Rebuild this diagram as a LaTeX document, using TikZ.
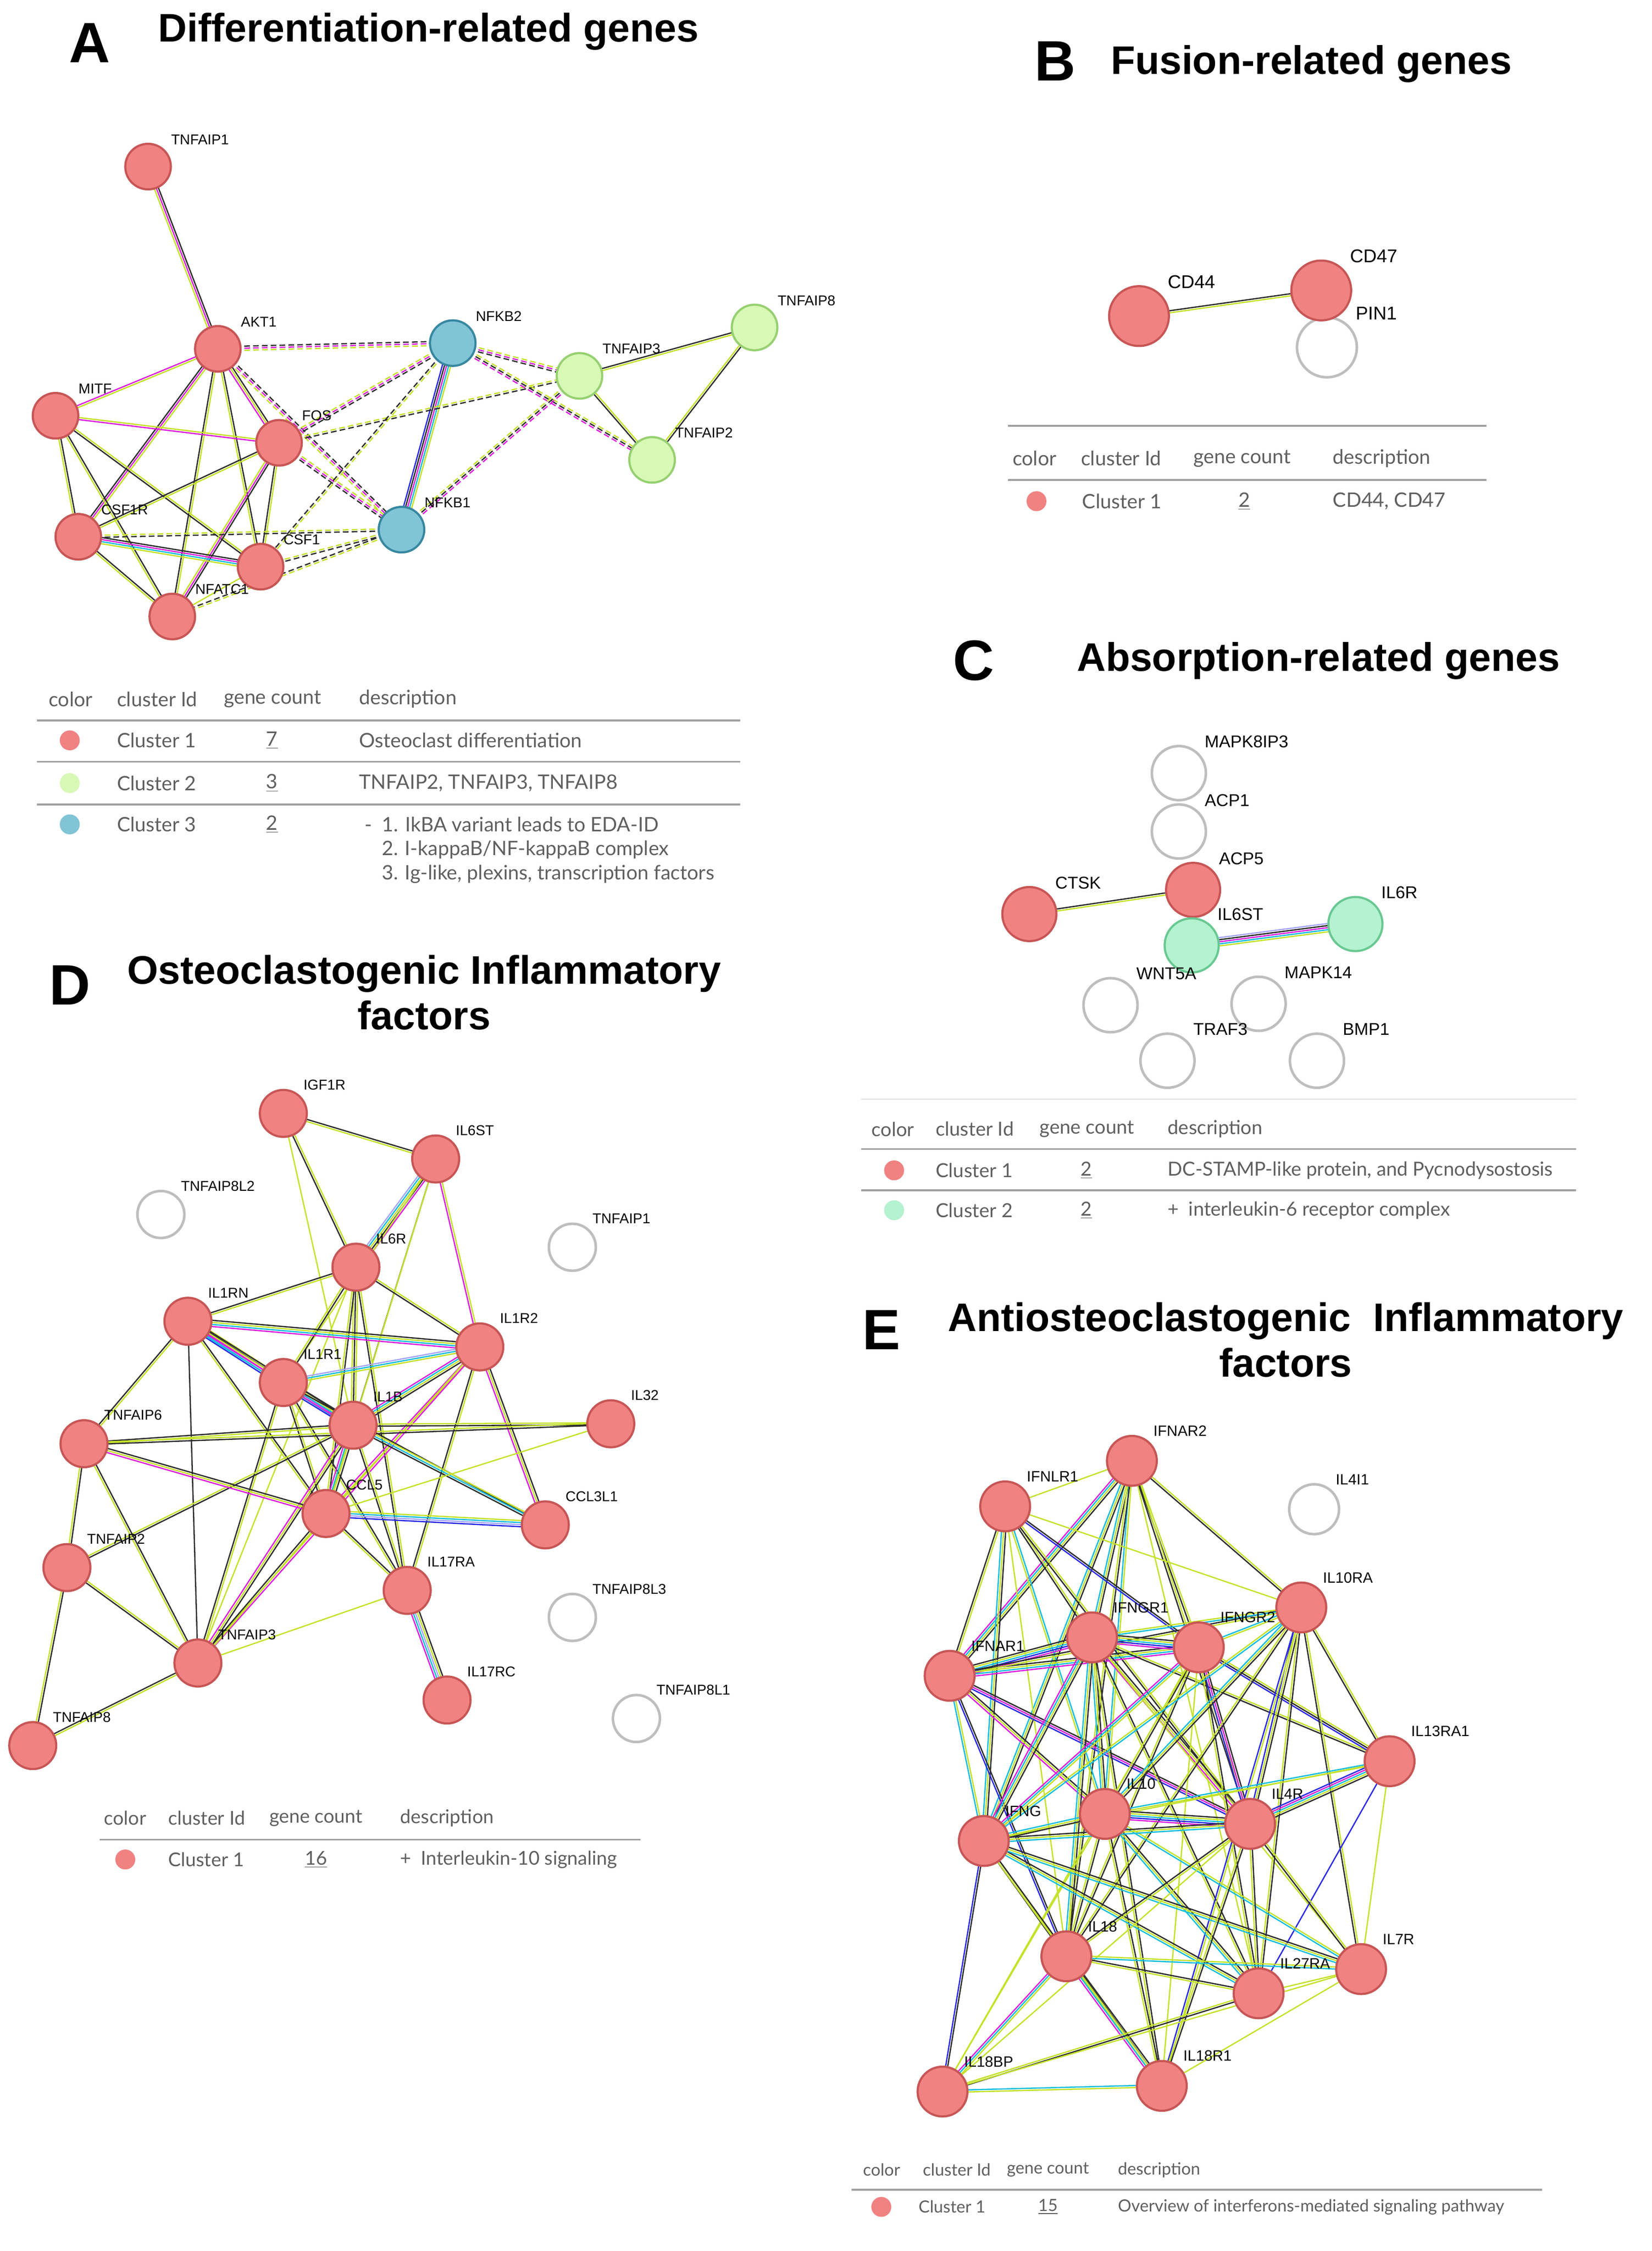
\documentclass[tikz,border=0pt]{standalone}
\usepackage{fontspec}
\setmainfont{Liberation Sans}
\newfontfamily\tabfont{Lato}
\usetikzlibrary{calc}

\pgfdeclarelayer{bg}
\pgfdeclarelayer{edges}
\pgfsetlayers{bg,edges,main}

\definecolor{clred}{RGB}{240,130,130}
\definecolor{clredline}{RGB}{200,85,85}
\definecolor{clgreen}{RGB}{216,248,182}
\definecolor{clgreenline}{RGB}{150,208,112}
\definecolor{clblue}{RGB}{128,196,214}
\definecolor{clblueline}{RGB}{55,135,160}
\definecolor{clmint}{RGB}{180,242,208}
\definecolor{clmintline}{RGB}{105,200,145}
\definecolor{nogray}{RGB}{190,190,190}
\definecolor{eyg}{RGB}{196,226,40}
\definecolor{eblk}{RGB}{45,45,45}
\definecolor{emag}{RGB}{222,30,222}
\definecolor{ecya}{RGB}{20,190,222}
\definecolor{eblu}{RGB}{40,40,230}
\definecolor{elav}{RGB}{165,165,250}
\definecolor{tabgray}{RGB}{95,95,95}
\definecolor{rulegray}{RGB}{160,160,160}

\tikzset{
  genenode/.style={circle, inner sep=0pt, line width=1.5pt},
  redgene/.style={genenode, draw=clredline, fill=clred},
  greengene/.style={genenode, draw=clgreenline, fill=clgreen},
  bluegene/.style={genenode, draw=clblueline, fill=clblue},
  mintgene/.style={genenode, draw=clmintline, fill=clmint},
  greygene/.style={genenode, draw=nogray, fill=white, line width=1.8pt},
  genetag/.style={font=\fontsize{#1}{#1}\selectfont, anchor=west, inner sep=0pt},
  genetag/.default=10,
  panelletter/.style={font=\bfseries\fontsize{40}{40}\selectfont, inner sep=0pt},
  paneltitle/.style={font=\bfseries\fontsize{28}{32}\selectfont, align=center, inner sep=0pt},
  tabtext/.style={font=\tabfont\fontsize{#1}{#1}\selectfont, text=tabgray, anchor=west, inner sep=0pt},
  tabtext/.default=14,
  tabrule/.style={draw=rulegray, line width=1.3pt},
  clusterdot/.style={circle, inner sep=0pt, minimum size=14pt},
  ppilink/.style={line width=0.9pt},
  ddash/.style={dash pattern=on 4pt off 2.2pt},
}

% parallel evidence lines between two genes
\newcommand{\ppi}[4][]{%
  \foreach \ec [count=\n] in {#4} {\xdef\ncol{\n}}%
  \foreach \ec [count=\i] in {#4} {%
    \pgfmathsetmacro\off{(\i-(\ncol+1)/2)*1.45}%
    \draw[ppilink, \ec, #1] ($(#2)!\off pt!90:(#3)$) -- ($(#3)!\off pt!-90:(#2)$);
  }}

\begin{document}
\begin{tikzpicture}[x=1pt,y=-1pt]
\useasboundingbox (0,0) rectangle (1160,1581);
\begin{pgfonlayer}{bg}
\fill[white] (0,0) rectangle (1160,1581);
\end{pgfonlayer}

%% A
\node[panelletter] (let-a) at (63,30) {A};
\node[paneltitle] (ttl-a) at (301,22) {Differentiation-related genes};
\foreach \n/\x/\y/\sty/\lab in {a-tnfaip1/104/117/redgene/TNFAIP1, a-akt1/153/245/redgene/AKT1,
  a-nfkb2/318/241/bluegene/NFKB2, a-tnfaip3/407/264/greengene/TNFAIP3, a-tnfaip8/530/230/greengene/TNFAIP8,
  a-mitf/39/292/redgene/MITF, a-fos/196/311/redgene/FOS, a-nfkb1/282/372/bluegene/NFKB1,
  a-tnfaip2/458/323/greengene/TNFAIP2, a-csf1r/55/377/redgene/CSF1R, a-csf1/183/398/redgene/CSF1,
  a-nfatc1/121/433/redgene/NFATC1}
  \node[\sty, minimum size=32pt] (\n) at (\x,\y) {} node[genetag] (\n-t) at (\x+16,\y-19) {\lab};

\begin{pgfonlayer}{edges}
\ppi{a-tnfaip1}{a-akt1}{eyg,emag,eblk}
\ppi{a-akt1}{a-mitf}{emag,eyg}
\ppi{a-akt1}{a-fos}{emag,eyg,eblk}
\ppi{a-akt1}{a-csf1r}{eblk,emag,eyg}
\ppi{a-akt1}{a-nfatc1}{eblk,eyg}
\ppi{a-akt1}{a-csf1}{eyg,eblk}
\ppi{a-mitf}{a-fos}{emag,eyg}
\ppi{a-mitf}{a-csf1r}{eyg,eblk}
\ppi{a-mitf}{a-nfatc1}{eyg,eblk}
\ppi{a-mitf}{a-csf1}{eblk,eyg}
\ppi{a-fos}{a-csf1r}{eblk,eyg}
\ppi{a-fos}{a-nfatc1}{eyg,emag,eblk}
\ppi{a-fos}{a-csf1}{eblk,eyg}
\ppi{a-csf1r}{a-csf1}{eyg,ecya,emag,eblk}
\ppi{a-csf1r}{a-nfatc1}{eyg,eblk}
\ppi{a-csf1}{a-nfatc1}{eyg}
\ppi{a-nfkb2}{a-nfkb1}{eblu,eblk,emag,ecya,eyg}
\ppi{a-tnfaip3}{a-tnfaip8}{eyg,eblk}
\ppi{a-tnfaip3}{a-tnfaip2}{eblk,eyg}
\ppi{a-tnfaip8}{a-tnfaip2}{eyg,eblk}
\ppi[ddash]{a-akt1}{a-nfkb2}{eyg,emag,eblk}
\ppi[ddash]{a-akt1}{a-nfkb1}{eyg,emag,eblk}
\ppi[ddash]{a-fos}{a-nfkb2}{eblk,emag,eyg}
\ppi[ddash]{a-fos}{a-tnfaip3}{eblk,eyg}
\ppi[ddash]{a-fos}{a-nfkb1}{eblk,emag,eyg}
\ppi[ddash]{a-nfkb2}{a-tnfaip3}{eblk,emag,eyg}
\ppi[ddash]{a-nfkb2}{a-tnfaip2}{emag,eblk,eyg}
\ppi[ddash]{a-nfkb2}{a-csf1}{eblk,eyg}
\ppi[ddash]{a-nfkb1}{a-tnfaip3}{emag,eblk,eyg}
\ppi[ddash]{a-nfkb1}{a-csf1r}{eyg,eblk}
\ppi[ddash]{a-nfkb1}{a-csf1}{eyg,eblk}
\ppi[ddash]{a-nfkb1}{a-nfatc1}{eblk,eyg}
\end{pgfonlayer}

% table A
\foreach \lab/\x in {color/34, cluster Id/82, gene count/157, description/252}
  \node[tabtext] (a-h-\x) at (\x,491) {\lab};
\foreach \y in {506,535,565} \draw[tabrule] (26,\y) -- (520,\y);
\node[clusterdot, fill=clred] (a-dot1) at (49,520) {};
\node[clusterdot, fill=clgreen] (a-dot2) at (49,550) {};
\node[clusterdot, fill=clblue] (a-dot3) at (49,579) {};
\node[tabtext] (a-c1) at (82,520) {Cluster 1};
\node[tabtext] (a-c2) at (82,550) {Cluster 2};
\node[tabtext] (a-c3) at (82,579) {Cluster 3};
\node[tabtext, anchor=center] (a-n1) at (191,520) {\underline{7}};
\node[tabtext, anchor=center] (a-n2) at (191,550) {\underline{3}};
\node[tabtext, anchor=center] (a-n3) at (191,579) {\underline{2}};
\node[tabtext] (a-d1) at (252,520) {Osteoclast differentiation};
\node[tabtext] (a-d2) at (252,550) {TNFAIP2, TNFAIP3, TNFAIP8};
\node[tabtext] (a-d3) at (256,579) {-\enspace 1. IkBA variant leads to EDA-ID};
\node[tabtext] (a-d4) at (268,597) {2. I-kappaB/NF-kappaB complex};
\node[tabtext] (a-d5) at (268,614) {3. Ig-like, plexins, transcription factors};

%% B
\node[panelletter] (let-b) at (741,43) {B};
\node[paneltitle] (ttl-b) at (921,45) {Fusion-related genes};
\foreach \n/\x/\y/\sty/\lab in {b-pin1/932/244/greygene/PIN1, b-cd47/928/204/redgene/CD47, b-cd44/800/222/redgene/CD44}
  \node[\sty, minimum size=42pt] (\n) at (\x,\y) {} node[genetag=13] (\n-t) at (\x+20,\y-24) {\lab};
\begin{pgfonlayer}{edges}
\ppi{b-cd44}{b-cd47}{eyg,eblk}
\end{pgfonlayer}
\draw[tabrule] (708,299) -- (1044,299);
\draw[tabrule] (708,337) -- (1044,337);
\foreach \lab/\x in {color/711, cluster Id/759, gene count/838, description/936}
  \node[tabtext=14] (b-h-\x) at (\x,322) {\lab};
\node[clusterdot, fill=clred] (b-dot1) at (728,352) {};
\node[tabtext=14] (b-c1) at (760,352) {Cluster 1};
\node[tabtext=14, anchor=center] (b-n1) at (874,352) {\underline{2}};
\node[tabtext=14] (b-d1) at (936,352) {CD44, CD47};

%% C
\node[panelletter] (let-c) at (684,464) {C};
\node[paneltitle] (ttl-c) at (926,464) {Absorption-related genes};
\foreach \n/\x/\y/\sty/\lab in {c-mapk8ip3/828/543/greygene/MAPK8IP3, c-acp1/828/584/greygene/ACP1,
  c-acp5/838/625/redgene/ACP5, c-ctsk/723/642/redgene/CTSK, c-il6st/837/664/mintgene/IL6ST,
  c-il6r/952/649/mintgene/IL6R, c-wnt5a/780/706/greygene/WNT5A, c-mapk14/884/705/greygene/MAPK14,
  c-traf3/820/745/greygene/TRAF3, c-bmp1/925/745/greygene/BMP1}
  \node[\sty, minimum size=38pt] (\n) at (\x,\y) {} node[genetag=12] (\n-t) at (\x+18,\y-22) {\lab};
\begin{pgfonlayer}{edges}
\ppi{c-ctsk}{c-acp5}{eyg,eblk}
\ppi{c-il6st}{c-il6r}{eyg,ecya,emag,eblk,elav}
\end{pgfonlayer}
\draw[draw=rulegray!35, line width=1pt] (605,772) -- (1107,772);
\foreach \y in {807,836} \draw[tabrule] (605,\y) -- (1107,\y);
\foreach \lab/\x in {color/612, cluster Id/657, gene count/730, description/820}
  \node[tabtext=13.6] (c-h-\x) at (\x,793) {\lab};
\node[clusterdot, fill=clred] (c-dot1) at (628,822) {};
\node[clusterdot, fill=clmint] (c-dot2) at (628,850) {};
\node[tabtext=13.6] (c-c1) at (657,822) {Cluster 1};
\node[tabtext=13.6] (c-c2) at (657,850) {Cluster 2};
\node[tabtext=13.6, anchor=center] (c-n1) at (763,822) {\underline{2}};
\node[tabtext=13.6, anchor=center] (c-n2) at (763,850) {\underline{2}};
\node[tabtext=13.6] (c-d1) at (820,822) {DC-STAMP-like protein, and Pycnodysostosis};
\node[tabtext=13.6] (c-d2) at (820,850) {+\enspace interleukin-6 receptor complex};

%% D
\node[panelletter] (let-d) at (49,692) {D};
\node[paneltitle] (ttl-d) at (298,697) {Osteoclastogenic Inflammatory\\factors};
\foreach \n/\x/\y/\sty/\lab in {d-igf1r/199/782/redgene/IGF1R, d-il6st/306/814/redgene/IL6ST,
  d-tnfaip8l2/113/853/greygene/TNFAIP8L2, d-tnfaip1/402/876/greygene/TNFAIP1, d-il6r/250/890/redgene/IL6R,
  d-il1rn/132/928/redgene/IL1RN, d-il1r2/337/946/redgene/IL1R2, d-il1r1/199/971/redgene/IL1R1,
  d-il1b/248/1001/redgene/IL1B, d-il32/429/1000/redgene/IL32, d-tnfaip6/59/1014/redgene/TNFAIP6,
  d-ccl5/229/1063/redgene/CCL5, d-ccl3l1/383/1071/redgene/CCL3L1, d-tnfaip2/47/1101/redgene/TNFAIP2,
  d-il17ra/286/1117/redgene/IL17RA, d-tnfaip8l3/402/1136/greygene/TNFAIP8L3, d-tnfaip3/139/1168/redgene/TNFAIP3,
  d-il17rc/314/1194/redgene/IL17RC, d-tnfaip8l1/447/1207/greygene/TNFAIP8L1, d-tnfaip8/23/1226/redgene/TNFAIP8}
  \node[\sty, minimum size=33pt] (\n) at (\x,\y) {} node[genetag] (\n-t) at (\x+14,\y-20) {\lab};

\begin{pgfonlayer}{edges}
\ppi{d-igf1r}{d-il6st}{eyg,eblk}
\ppi{d-igf1r}{d-il6r}{eblk,eyg}
\ppi{d-igf1r}{d-il1b}{eyg}
\ppi{d-il6st}{d-il6r}{elav,ecya,eyg,eblk,emag}
\ppi{d-il6st}{d-il1r1}{eyg}
\ppi{d-il6st}{d-il1b}{eblk}
\ppi{d-il6st}{d-ccl5}{eyg}
\ppi{d-il6st}{d-il1r2}{emag,eyg}
\ppi{d-il6r}{d-il1rn}{eblk,eyg}
\ppi{d-il6r}{d-il1r2}{eblk,eyg}
\ppi{d-il6r}{d-il1r1}{eyg,eblk}
\ppi{d-il6r}{d-il1b}{eyg,eblk,eyg}
\ppi{d-il6r}{d-ccl5}{eyg,eblk}
\ppi{d-il6r}{d-il17ra}{eblk,eyg}
\ppi{d-il6r}{d-tnfaip3}{eyg}
\ppi{d-il1rn}{d-il1r2}{emag,ecya,eyg,eblk}
\ppi{d-il1rn}{d-il1r1}{eblu,ecya,emag,eblk,eyg}
\ppi{d-il1rn}{d-il1b}{ecya,emag,eyg,eblk}
\ppi{d-il1rn}{d-tnfaip6}{eblk,eyg}
\ppi{d-il1rn}{d-tnfaip3}{eblk}
\ppi{d-il1rn}{d-ccl5}{eyg,eblk}
\ppi{d-il1r2}{d-il1r1}{elav,ecya,eyg}
\ppi{d-il1r2}{d-il1b}{emag,ecya,eyg,eblk}
\ppi{d-il1r2}{d-ccl5}{emag,eyg}
\ppi{d-il1r2}{d-ccl3l1}{emag,eyg,eblk}
\ppi{d-il1r2}{d-il17ra}{eblk,eyg}
\ppi{d-il1r2}{d-tnfaip3}{eyg,emag}
\ppi{d-il1r1}{d-il1b}{eblu,emag,ecya,eyg,eblk}
\ppi{d-il1r1}{d-ccl5}{eblk,eyg}
\ppi{d-il1r1}{d-il17ra}{eyg,eblk}
\ppi{d-il1r1}{d-tnfaip3}{eblk,eyg}
\ppi{d-il1r1}{d-ccl3l1}{eblk}
\ppi{d-il1b}{d-il32}{eblk,eyg}
\ppi{d-il1b}{d-tnfaip6}{eblk,eyg}
\ppi{d-il1b}{d-ccl5}{emag,ecya,eyg,eblk}
\ppi{d-il1b}{d-ccl3l1}{eblk,ecya,eyg}
\ppi{d-il1b}{d-il17ra}{eblk,eyg}
\ppi{d-il1b}{d-tnfaip3}{emag,eyg,eblk}
\ppi{d-il1b}{d-tnfaip2}{eyg,eblk}
\ppi{d-tnfaip6}{d-ccl5}{emag,eyg,eblk}
\ppi{d-tnfaip6}{d-il32}{eblk,eyg}
\ppi{d-tnfaip6}{d-tnfaip2}{eyg,eblk}
\ppi{d-tnfaip6}{d-tnfaip3}{eyg,eblk}
\ppi{d-ccl5}{d-ccl3l1}{eblu,elav,ecya,eyg}
\ppi{d-ccl5}{d-il32}{eyg}
\ppi{d-ccl5}{d-il17ra}{eyg,eblk}
\ppi{d-ccl5}{d-tnfaip3}{eblk,eyg}
\ppi{d-tnfaip2}{d-tnfaip3}{eblk,eyg}
\ppi{d-tnfaip2}{d-tnfaip8}{eyg,eblk}
\ppi{d-tnfaip3}{d-tnfaip8}{eblk,eyg}
\ppi{d-tnfaip3}{d-il17ra}{eyg}
\ppi{d-il17ra}{d-il17rc}{emag,ecya,elav,eyg,eblk}
\end{pgfonlayer}

% table D
\foreach \lab/\x in {color/73, cluster Id/118, gene count/189, description/281}
  \node[tabtext=13.4] (d-h-\x) at (\x,1277) {\lab};
\draw[tabrule] (70,1292) -- (450,1292);
\node[clusterdot, fill=clred] (d-dot1) at (88,1306) {};
\node[tabtext=13.4] (d-c1) at (118,1306) {Cluster 1};
\node[tabtext=13.4, anchor=center] (d-n1) at (222,1306) {\underline{16}};
\node[tabtext=13.4] (d-d1) at (281,1306) {+\enspace Interleukin-10 signaling};

%% E
\node[panelletter] (let-e) at (619,934) {E};
\node[paneltitle] (ttl-e) at (903,941) {Antiosteoclastogenic\ \ Inflammatory\\factors};
\foreach \n/\x/\y/\sty/\lab in {e-ifnar2/795/1026/redgene/IFNAR2, e-ifnlr1/706/1058/redgene/IFNLR1,
  e-il4i1/923/1060/greygene/IL4I1, e-il10ra/914/1129/redgene/IL10RA, e-ifngr1/767/1150/redgene/IFNGR1,
  e-ifngr2/842/1157/redgene/IFNGR2, e-ifnar1/667/1177/redgene/IFNAR1, e-il13ra1/976/1237/redgene/IL13RA1,
  e-il10/776/1274/redgene/IL10, e-ifng/691/1293/redgene/IFNG, e-il4r/878/1281/redgene/IL4R,
  e-il18/749/1374/redgene/IL18, e-il27ra/884/1400/redgene/IL27RA, e-il7r/956/1383/redgene/IL7R,
  e-il18bp/662/1469/redgene/IL18BP, e-il18r1/816/1465/redgene/IL18R1}
  \node[\sty, minimum size=35pt] (\n) at (\x,\y) {} node[genetag=10.5] (\n-t) at (\x+15,\y-21) {\lab};

\begin{pgfonlayer}{edges}
\ppi{e-ifnar2}{e-ifnlr1}{eyg}
\ppi{e-ifnar2}{e-ifnar1}{emag,ecya,eyg,eblk}
\ppi{e-ifnar2}{e-ifngr1}{ecya,eyg,eblk}
\ppi{e-ifnar2}{e-ifngr2}{eblk,eyg}
\ppi{e-ifnar2}{e-il10ra}{eblk,eyg}
\ppi{e-ifnar2}{e-ifng}{ecya,eyg,eblk}
\ppi{e-ifnar2}{e-il10}{ecya,eyg}
\ppi{e-ifnar2}{e-il4r}{eblk,eyg}
\ppi{e-ifnar2}{e-il18}{eyg,eblk}
\ppi{e-ifnar2}{e-il27ra}{eyg}
\ppi{e-ifnlr1}{e-ifnar1}{eblk,eyg}
\ppi{e-ifnlr1}{e-ifngr1}{eblk,eyg}
\ppi{e-ifnlr1}{e-ifngr2}{eblu,eblk}
\ppi{e-ifnlr1}{e-il10ra}{eyg}
\ppi{e-ifnlr1}{e-ifng}{ecya,eyg,eblk}
\ppi{e-ifnlr1}{e-il10}{eyg,ecya}
\ppi{e-ifnlr1}{e-il4r}{eblk,eyg}
\ppi{e-ifnlr1}{e-il18}{eyg}
\ppi{e-ifnar1}{e-ifngr1}{emag,eblu,ecya,eyg,eblk}
\ppi{e-ifnar1}{e-ifngr2}{emag,ecya,eyg,eblk}
\ppi{e-ifnar1}{e-ifng}{ecya,eyg}
\ppi{e-ifnar1}{e-il10}{emag,eyg,eblk}
\ppi{e-ifnar1}{e-il4r}{eblu,emag,eblk}
\ppi{e-ifnar1}{e-il18}{eblu,eblk}
\ppi{e-ifnar1}{e-il10ra}{eyg,eblk}
\ppi{e-ifngr1}{e-ifngr2}{emag,eblu,ecya,eyg,eblk}
\ppi{e-ifngr1}{e-il10ra}{ecya,eyg}
\ppi{e-ifngr1}{e-ifng}{emag,ecya,eyg,eblk}
\ppi{e-ifngr1}{e-il10}{ecya,eyg,eblk}
\ppi{e-ifngr1}{e-il4r}{emag,eyg,eblk}
\ppi{e-ifngr1}{e-il18}{ecya,eyg,eblk}
\ppi{e-ifngr1}{e-il27ra}{eyg,eblk}
\ppi{e-ifngr1}{e-il18r1}{eyg,eblk}
\ppi{e-ifngr1}{e-il13ra1}{eblk,eyg}
\ppi{e-ifngr1}{e-il7r}{eyg}
\ppi{e-ifngr2}{e-il10ra}{eyg,ecya}
\ppi{e-ifngr2}{e-ifng}{emag,ecya,eyg}
\ppi{e-ifngr2}{e-il10}{eyg,eblk}
\ppi{e-ifngr2}{e-il4r}{eblu,emag,eblk}
\ppi{e-ifngr2}{e-il18}{eyg,eblk}
\ppi{e-ifngr2}{e-il13ra1}{eblu,eblk,eyg}
\ppi{e-ifngr2}{e-il27ra}{eyg,eblk}
\ppi{e-ifngr2}{e-il18r1}{eyg}
\ppi{e-ifngr2}{e-il18bp}{eyg}
\ppi{e-il10ra}{e-il13ra1}{eblk,eyg}
\ppi{e-il10ra}{e-il10}{ecya,eyg,eblk}
\ppi{e-il10ra}{e-ifng}{eyg,ecya}
\ppi{e-il10ra}{e-il4r}{eblu,eyg,eblk}
\ppi{e-il10ra}{e-il18}{eyg,eblk}
\ppi{e-il10ra}{e-il27ra}{eyg,eblk}
\ppi{e-il10ra}{e-il7r}{eblk,eyg}
\ppi{e-il10ra}{e-il18r1}{eblu,eyg}
\ppi{e-il13ra1}{e-il4r}{eblu,emag,ecya,eyg,eblk}
\ppi{e-il13ra1}{e-il10}{ecya,eyg}
\ppi{e-il13ra1}{e-il7r}{eyg}
\ppi{e-il13ra1}{e-ifng}{eyg}
\ppi{e-il13ra1}{e-il27ra}{eblu}
\ppi{e-il10}{e-ifng}{ecya,eyg,eblk}
\ppi{e-il10}{e-il4r}{emag,eblu,ecya,eyg,eblk}
\ppi{e-il10}{e-il18}{eyg,eblk}
\ppi{e-il10}{e-il27ra}{ecya,eyg,eblk}
\ppi{e-il10}{e-il7r}{ecya,eyg}
\ppi{e-il10}{e-il18r1}{eyg,eblk}
\ppi{e-il10}{e-il18bp}{eyg}
\ppi{e-ifng}{e-il4r}{ecya,eyg,eblk}
\ppi{e-ifng}{e-il18}{eblk,eyg}
\ppi{e-ifng}{e-il27ra}{ecya,eyg,eblk}
\ppi{e-ifng}{e-il7r}{ecya,eyg,eblk}
\ppi{e-ifng}{e-il18bp}{eblu,eblk}
\ppi{e-ifng}{e-il18r1}{eyg,eblk}
\ppi{e-il4r}{e-il18}{eblk,eyg}
\ppi{e-il4r}{e-il27ra}{eyg,eblk}
\ppi{e-il4r}{e-il7r}{eblk,eyg}
\ppi{e-il4r}{e-il18r1}{eyg,eblk}
\ppi{e-il4r}{e-il18bp}{eyg}
\ppi{e-il18}{e-il27ra}{eyg,eblk}
\ppi{e-il18}{e-il7r}{ecya,eyg}
\ppi{e-il18}{e-il18r1}{emag,ecya,eyg,eblk}
\ppi{e-il18}{e-il18bp}{emag,ecya,eyg}
\ppi{e-il27ra}{e-il7r}{eyg}
\ppi{e-il27ra}{e-il18bp}{eyg,eblk}
\ppi{e-il7r}{e-il18bp}{eyg}
\ppi{e-il7r}{e-il18r1}{eyg}
\ppi{e-il18r1}{e-il18bp}{ecya,eyg}
\end{pgfonlayer}

% table E
\foreach \lab/\x in {color/606, cluster Id/648, gene count/707, description/785}
  \node[tabtext=11.8] (e-h-\x) at (\x,1524) {\lab};
\draw[tabrule] (598,1538) -- (1083,1538);
\node[clusterdot, fill=clred] (e-dot1) at (619,1550) {};
\node[tabtext=11.8] (e-c1) at (645,1550) {Cluster 1};
\node[tabtext=11.8, anchor=center] (e-n1) at (736,1550) {\underline{15}};
\node[tabtext=11.8] (e-d1) at (785,1550) {Overview of interferons-mediated signaling pathway};
\end{tikzpicture}
\end{document}
